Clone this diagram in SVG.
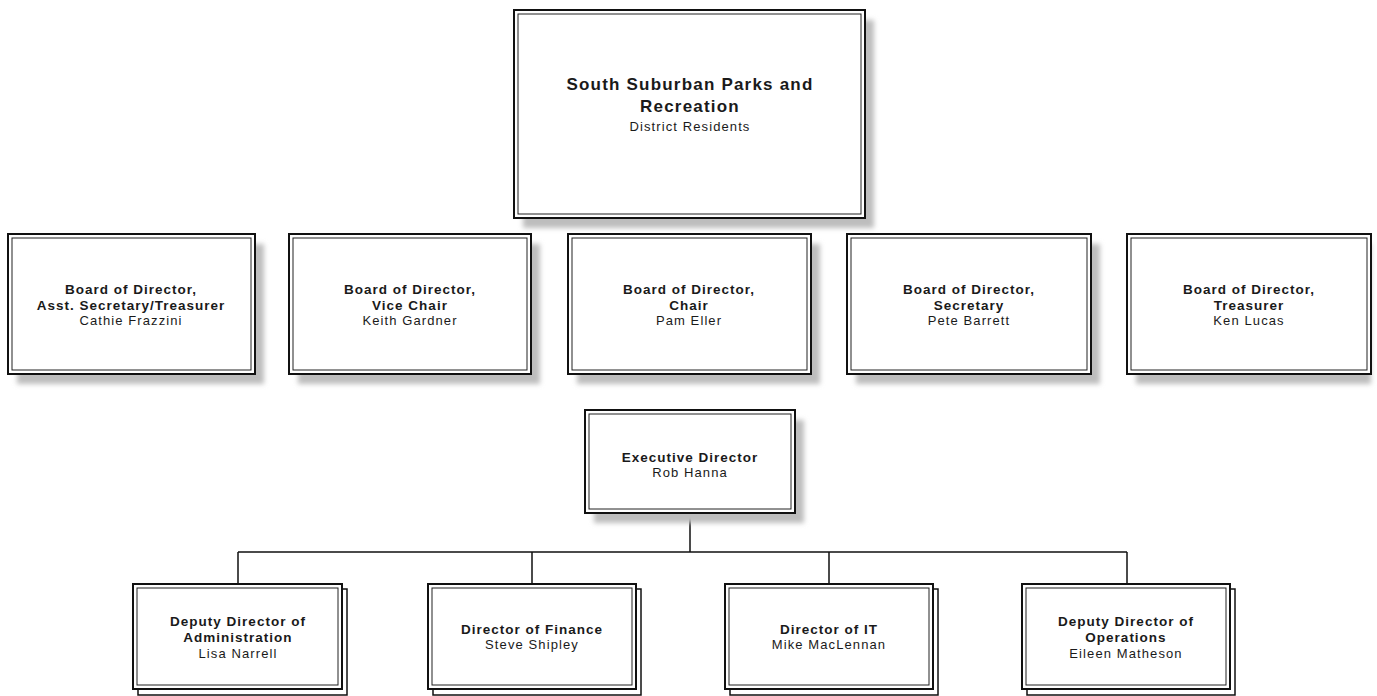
<svg xmlns="http://www.w3.org/2000/svg" width="1377" height="696" viewBox="0 0 1377 696">
<defs>
<filter id="sh" x="-10%" y="-10%" width="130%" height="140%">
<feGaussianBlur stdDeviation="2.5"/>
</filter>
<style>
.shadow{fill:#bdbdbd;filter:url(#sh)}
.outer{fill:#fff;stroke:#111;stroke-width:2}
.inner{fill:none;stroke:#222;stroke-width:1}
.back{fill:#fff;stroke:#111;stroke-width:1.5}
.t{font-family:"Liberation Sans",Arial,sans-serif;font-weight:bold;font-size:13.5px;letter-spacing:1px;fill:#1a1a1a;text-anchor:middle}
.n{font-family:"Liberation Sans",Arial,sans-serif;font-size:13px;letter-spacing:1.1px;fill:#1a1a1a;text-anchor:middle}
.big{font-size:17px;letter-spacing:1.2px}
.conn{fill:none;stroke:#111;stroke-width:1.5}
</style>
</defs>
<rect width="1377" height="696" fill="#fff"/>

<g id="connectors">
<path class="conn" d="M690 513 V552 M238 552 H1127 M238 552 V584 M532 552 V584 M829 552 V584 M1127 552 V584"/>
</g>

<g id="top">
<rect class="shadow" x="523" y="20" width="351" height="208"/>
<rect class="outer" x="514" y="10" width="351" height="208"/>
<rect class="inner" x="518" y="14" width="343" height="200"/>
<text class="t big" x="690" y="90">South Suburban Parks and</text>
<text class="t big" x="690" y="112">Recreation</text>
<text class="n" x="690" y="131">District Residents</text>
</g>

<g id="b1">
<rect class="shadow" x="17" y="244" width="247" height="140"/>
<rect class="outer" x="8" y="234" width="247" height="140"/>
<rect class="inner" x="12" y="238" width="239" height="132"/>
<text class="t" x="131" y="294">Board of Director,</text>
<text class="t" x="131" y="310">Asst. Secretary/Treasurer</text>
<text class="n" x="131" y="325">Cathie Frazzini</text>
</g>

<g id="b2">
<rect class="shadow" x="298" y="244" width="242" height="140"/>
<rect class="outer" x="289" y="234" width="242" height="140"/>
<rect class="inner" x="293" y="238" width="234" height="132"/>
<text class="t" x="410" y="294">Board of Director,</text>
<text class="t" x="410" y="310">Vice Chair</text>
<text class="n" x="410" y="325">Keith Gardner</text>
</g>

<g id="b3">
<rect class="shadow" x="577" y="244" width="243" height="140"/>
<rect class="outer" x="568" y="234" width="243" height="140"/>
<rect class="inner" x="572" y="238" width="235" height="132"/>
<text class="t" x="689" y="294">Board of Director,</text>
<text class="t" x="689" y="310">Chair</text>
<text class="n" x="689" y="325">Pam Eller</text>
</g>

<g id="b4">
<rect class="shadow" x="856" y="244" width="244" height="140"/>
<rect class="outer" x="847" y="234" width="244" height="140"/>
<rect class="inner" x="851" y="238" width="236" height="132"/>
<text class="t" x="969" y="294">Board of Director,</text>
<text class="t" x="969" y="310">Secretary</text>
<text class="n" x="969" y="325">Pete Barrett</text>
</g>

<g id="b5">
<rect class="shadow" x="1136" y="244" width="235" height="140"/>
<rect class="outer" x="1127" y="234" width="244" height="140"/>
<rect class="inner" x="1131" y="238" width="236" height="132"/>
<text class="t" x="1249" y="294">Board of Director,</text>
<text class="t" x="1249" y="310">Treasurer</text>
<text class="n" x="1249" y="325">Ken Lucas</text>
</g>

<g id="exec">
<rect class="shadow" x="594" y="420" width="210" height="103"/>
<rect class="outer" x="585" y="410" width="210" height="103"/>
<rect class="inner" x="589" y="414" width="202" height="95"/>
<text class="t" x="690" y="462">Executive Director</text>
<text class="n" x="690" y="477">Rob Hanna</text>
</g>

<g id="d1">
<rect class="back" x="138" y="589" width="209" height="106"/>
<rect class="outer" x="133" y="584" width="209" height="105"/>
<rect class="inner" x="137" y="588" width="201" height="97"/>
<text class="t" x="238" y="626">Deputy Director of</text>
<text class="t" x="238" y="642">Administration</text>
<text class="n" x="238" y="658">Lisa Narrell</text>
</g>

<g id="d2">
<rect class="back" x="433" y="589" width="208" height="106"/>
<rect class="outer" x="428" y="584" width="208" height="105"/>
<rect class="inner" x="432" y="588" width="200" height="97"/>
<text class="t" x="532" y="634">Director of Finance</text>
<text class="n" x="532" y="649">Steve Shipley</text>
</g>

<g id="d3">
<rect class="back" x="730" y="589" width="208" height="106"/>
<rect class="outer" x="725" y="584" width="208" height="105"/>
<rect class="inner" x="729" y="588" width="200" height="97"/>
<text class="t" x="829" y="634">Director of IT</text>
<text class="n" x="829" y="649">Mike MacLennan</text>
</g>

<g id="d4">
<rect class="back" x="1027" y="589" width="208" height="106"/>
<rect class="outer" x="1022" y="584" width="208" height="105"/>
<rect class="inner" x="1026" y="588" width="200" height="97"/>
<text class="t" x="1126" y="626">Deputy Director of</text>
<text class="t" x="1126" y="642">Operations</text>
<text class="n" x="1126" y="658">Eileen Matheson</text>
</g>
</svg>
